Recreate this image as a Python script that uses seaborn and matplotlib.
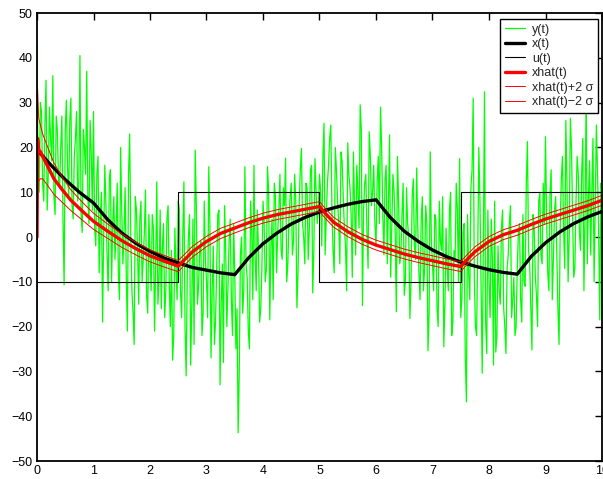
import numpy as np
import pandas as pd
import matplotlib
matplotlib.use("Agg")
import matplotlib.pyplot as plt
import seaborn as sns

# --- data ---
# measurement y(t): samples at t = 0, 0.04, ... 10
y_meas = [
    43.5, 10, 28, 8, 35, 14, 22, 36, 5, 24, 11, 27, -10.7, 30.5, 9, 31, 4, 22, 8, 40.5, 1, 20, 37, 3, 19,
    28, -2, 18, 4, -19, 16, -4, 13, -10, 9, 2, -8, 20, -6, 11, -21, 23, -12, -24, 6, -15, 8, -5, 10.5, -17,
    -4, 5, -21, 12.3, -9, -16, 3, -12, 7, -20, -27.5, 2, -14, 6, -18, 12.3, -31, 0, -28.6, 4, 19.4, -15, -3, -22, 8,
    -10, 15.7, -27, -2, -19, 5, -33, -6, 7, -20, -1, -14, 3, -25, -43.7, -4, -17, 15.7, -9, -25, 2, 16, -12, -3, -16,
    8, -10, 15.7, -18.5, 4, 12, -8, 6, -3, 11, 17.6, -6, 9, -4, 14, -15.8, 7, 19.8, 0, 12, -5, 15, -12.5, 17.5, 3,
    14, -2, 25.4, 4, 16, 25, -3, 20, 8, -6, 17, 2, -12, 14, 5, 19, -4, 10, 29.5, -15.3, 12, 1, 23.5, 7, 16,
    -2, 18, 29, 5, 13, -6, 22.8, 2, 10, -16.7, 8, -4, 12, -10, 3, -18.2, 9, -2, 15.4, -8, 4, -12, 7, -25.4, 19,
    -6, 5, -16, 8, -3, -24.5, 2, -12, 10, -19, -5, 6, 17.5, -14, 3, -36.8, -8, 11, 31, -20, -4, 8, -30.4, 32.4, -26,
    -10, 4, -28.6, -25.7, -2, -15, 6, -20, -7, 3, -18, -9, -20, 1, -14, 5, -11, 21.3, -6, -25.2, 2, -13, 8, -4, 12,
    22.4, -8, 10, -14, 6, -3, -24, 13, 2, 26, -10, 26.5, 4, -7, 18, 1, 14, -12, 33, 9, -4, 22, 6, 15, -18.5, 10,
]
# in-between samples at t = 0.02, 0.06, ... 9.98
y_mid = [
    15, 30, 12, 25, 6, 29, 17, 9, 27, 13, 20, 4, 24, 16, 26, 7, 18, 28, 12, 5, 24, 14, 9, 26, 6,
    2, 14, -8, 10, 0, 7, -12, 15, 3, -5, 12, -14, 6, 1, -9, 14, 0, -17, 9, -3, 4, -10, 1, -13, 5,
    -12, 2, -6, -15, 6, -2, -18, 4, -10, -3, -22, -7, 8, -12, 0, -20, -8, 5, -15, -24, 7, -11, -1, -17, -5,
    -18, 3, -12, -24, -7, 6, -15, -28, -3, -11, 4, -22, -8, -16, -30, 0, -12, -6, -21, 8, -14, -4, 6, -19, -7,
    3, -7, 10, -2, -14, 9, 1, 14, -5, 7, -10, 4, 12, -1, 8, -8, 15, 3, -6, 11, 2, 16, -3, 10, 6,
    10, 18, -4, 12, 22, 6, -8, 15, 3, 19, 9, -2, 21, 11, -9, 8, 16, 2, 24, 6, 14, -7, 18, 10, 3,
    12, 3, 20, -4, 16, 7, -9, 14, 1, 18, -6, 5, -13, 11, 0, -10, 13, -5, 2, -14, 9, -7, 3, -17, -1,
    -12, 4, -20, -1, 9, -15, -7, 6, -22, -3, 12, -10, -18, 1, -27, 5, -14, 15, -9, -22, 20, -12, -2, -19, 6,
    -18, -5, 8, -22, -12, 2, -16, -26, -4, 7, -14, -22, -7, 3, -19, -10, 12, -3, -16, 5, -9, -20, 10, -6, 3,
    4, -12, 15, -5, 9, -16, 2, 18, -7, 12, 0, 20, -9, 8, 14, -3, 22, 5, -6, 17, 10, -10, 25, 2, 12,
]

# true state x(t)
t_state = [0, 0.25, 0.5, 0.75, 1.0, 1.25, 1.5, 1.75, 2.0, 2.25, 2.5, 2.75, 3.0, 3.25, 3.5,
           3.75, 4.0, 4.25, 4.5, 4.75, 5.0, 5.25, 5.5, 5.75, 6.0,
           6.25, 6.5, 6.75, 7.0, 7.25, 7.5, 7.75, 8.0, 8.25, 8.5,
           8.75, 9.0, 9.25, 9.5, 9.75, 10.0]
x_state = [19.5, 16, 12.8, 10, 7.6, 3.9, 0.9, -1.4, -3.2, -4.7, -5.8, -6.8, -7.4, -8.0, -8.4,
           -4.6, -1.5, 0.9, 2.9, 4.4, 5.6, 6.5, 7.3, 7.9, 8.3,
           4.4, 1.3, -1.0, -2.9, -4.4, -5.6, -6.5, -7.3, -7.9, -8.3,
           -4.3, -1.3, 1.1, 3.0, 4.5, 5.7]

# input u(t), square wave
t_input = [0, 2.5, 5, 7.5, 10]
u_input = [-10, 10, -10, 10, 10]

# estimate xhat(t) and its 2 sigma half-width
t_est = [0, 0.01, 0.03, 0.06, 0.1, 0.2, 0.3, 0.45, 0.6, 0.8, 1.0, 1.25, 1.5, 1.75, 2.0, 2.25, 2.5,
         2.6, 2.75, 3.0, 3.25, 3.5, 3.75, 4.0, 4.25, 4.5, 4.75, 5.0,
         5.1, 5.25, 5.5, 5.75, 6.0, 6.25, 6.5, 6.75, 7.0, 7.25, 7.5,
         7.6, 7.75, 8.0, 8.25, 8.5, 8.75, 9.0, 9.25, 9.5, 9.75, 10.0]
x_est = [0, 22, 19.5, 19, 18, 15.5, 13, 10.5, 8.2, 5.8, 3.5, 1.3, -0.8, -2.6, -4.2, -5.4, -6.5,
         -5.2, -3.3, -1.0, 0.8, 2.0, 3.2, 4.2, 5.0, 5.6, 6.2, 6.8,
         5.3, 3.3, 1.2, -0.5, -1.8, -2.8, -3.8, -4.6, -5.3, -6.0, -6.6,
         -5.2, -3.3, -1.0, 0.5, 1.5, 2.8, 4.0, 5.0, 6.0, 7.0, 8.2]
two_sigma = [20, 11, 7, 6, 5, 4.2, 3.5, 2.8, 2.3, 2.0, 1.8, 1.6, 1.5, 1.4, 1.35, 1.3, 1.25,
             1.2, 1.2, 1.15, 1.15, 1.1, 1.1, 1.1, 1.1, 1.1, 1.1, 1.1,
             1.1, 1.1, 1.1, 1.1, 1.1, 1.1, 1.1, 1.1, 1.1, 1.1, 1.1,
             1.1, 1.1, 1.1, 1.1, 1.1, 1.1, 1.1, 1.1, 1.1, 1.1, 1.1]

# --- style ---
sns.set_style("white")
plt.rcParams['font.family'] = ['Liberation Sans', 'DejaVu Sans']
plt.rcParams['font.size'] = 9

# interleave the two measurement lists onto one 0.02 s grid
t_meas = np.round(np.arange(501) * 0.02, 2)
y_all = np.empty(501)
y_all[0::2] = y_meas
y_all[1::2] = y_mid

est = pd.DataFrame({"t": t_est, "xhat": x_est, "s2": two_sigma})
est["upper"] = est["xhat"] + est["s2"]
est["lower"] = est["xhat"] - est["s2"]

fig = plt.figure(figsize=(6.03, 4.79), dpi=100)
ax = fig.add_axes([37 / 603, 18 / 479, 565 / 603, 448 / 479])

GREEN = (0, 1, 0)
RED = (1, 0, 0)

sns.lineplot(x=t_meas, y=y_all, ax=ax, color=GREEN, lw=0.9, sort=False,
             estimator=None, label="y(t)")
sns.lineplot(x=t_state, y=x_state, ax=ax, color="black", lw=2.4, sort=False,
             estimator=None, label="x(t)")
sns.lineplot(x=t_input, y=u_input, ax=ax, color="black", lw=0.8, sort=False,
             estimator=None, drawstyle="steps-post", label="u(t)")
sns.lineplot(data=est, x="t", y="xhat", ax=ax, color=RED, lw=2.4, sort=False,
             estimator=None, label="xhat(t)")
sns.lineplot(data=est, x="t", y="upper", ax=ax, color=RED, lw=0.7, sort=False,
             estimator=None, label="xhat(t)+2 σ")
sns.lineplot(data=est, x="t", y="lower", ax=ax, color=RED, lw=0.7, sort=False,
             estimator=None, label="xhat(t)\u22122 σ")

ax.set_xlim(0, 10)
ax.set_ylim(-50, 50)
ax.set_xticks(range(0, 11))
ax.set_yticks(range(-50, 51, 10))
ax.set_xlabel("")
ax.set_ylabel("")
ax.tick_params(direction="in", length=5, width=1, top=True, right=True,
               labelsize=9, pad=3, colors="black")
for sp in ax.spines.values():
    sp.set_linewidth(1.3)
    sp.set_color("black")

leg = ax.legend(loc="upper right", bbox_to_anchor=(0.993, 0.986), fontsize=9,
                frameon=True, fancybox=False, framealpha=1, edgecolor="black",
                handlelength=1.6, handletextpad=0.6, labelspacing=0.2,
                borderpad=0.35, borderaxespad=0)
leg.get_frame().set_linewidth(1.0)

fig.savefig("out.png", dpi=100)
